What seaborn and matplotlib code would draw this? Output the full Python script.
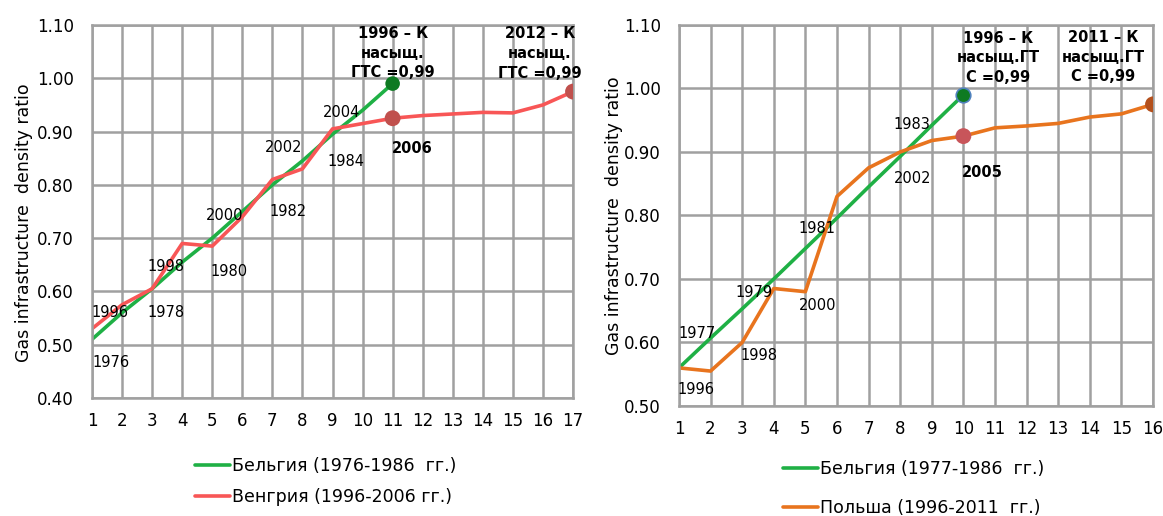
import numpy as np
import pandas as pd
import matplotlib.pyplot as plt
import seaborn as sns
from matplotlib.ticker import FormatStrFormatter

# ---- data, left chart ----
bel_l_x = list(range(1, 12))
bel_l_year = list(range(1976, 1987))
bel_l_y = [0.51, 0.56, 0.605, 0.655, 0.70, 0.75, 0.80, 0.845, 0.895, 0.94, 0.99]

hun_x = list(range(1, 18))
hun_year = list(range(1996, 2013))
hun_y = [0.53, 0.575, 0.605, 0.69, 0.685, 0.74, 0.81, 0.83, 0.905, 0.915,
         0.925, 0.93, 0.933, 0.936, 0.935, 0.95, 0.975]

# ---- data, right chart ----
bel_r_x = list(range(1, 11))
bel_r_year = list(range(1977, 1987))
bel_r_y = [0.56, 0.607, 0.653, 0.70, 0.748, 0.796, 0.845, 0.893, 0.942, 0.99]

pol_x = list(range(1, 17))
pol_year = list(range(1996, 2012))
pol_y = [0.56, 0.555, 0.60, 0.685, 0.68, 0.83, 0.875, 0.90, 0.918, 0.925,
         0.938, 0.941, 0.945, 0.955, 0.96, 0.975]

lab_bel_l = "Бельгия (1976-1986  гг.)"
lab_hun = "Венгрия (1996-2006 гг.)"
lab_bel_r = "Бельгия (1977-1986  гг.)"
lab_pol = "Польша (1996-2011  гг.)"

green = "#1fb045"
red = "#f85656"
orange = "#e8741e"
grid_c = "#a0a0a0"

sns.set_style("white")
plt.rcParams["font.family"] = ["DejaVu Sans"]
plt.rcParams["text.color"] = "black"
plt.rcParams["axes.labelcolor"] = "black"

fig = plt.figure(figsize=(11.63, 5.16), dpi=100)
ax1 = fig.add_axes([0.0791, 0.2287, 0.4136, 0.7229])
ax2 = fig.add_axes([0.5838, 0.2132, 0.4076, 0.7384])


def style_axis(ax, xmax, ymin, lab_x, lab_y):
    ax.set_xlim(1, xmax)
    ax.set_ylim(ymin, 1.10)
    ax.set_xticks(range(1, xmax + 1))
    ax.set_yticks(np.round(np.arange(ymin, 1.1001, 0.1), 2))
    ax.yaxis.set_major_formatter(FormatStrFormatter("%.2f"))
    ax.grid(True, color=grid_c, linewidth=1.8)
    ax.set_axisbelow(True)
    for s in ax.spines.values():
        s.set_color(grid_c)
        s.set_linewidth(1.8)
    ax.tick_params(length=4, width=1.8, color=grid_c, labelsize=12,
                   labelcolor="black")
    ax.tick_params(axis="y", pad=9)
    ax.tick_params(axis="x", pad=6)
    ax.set_xlabel("")
    ax.set_ylabel("Gas infrastructure  density ratio", fontsize=12.5)
    ax.yaxis.set_label_coords(lab_x, lab_y)


# left chart
sns.lineplot(x=bel_l_x, y=bel_l_y, color=green, linewidth=2.6, label=lab_bel_l, ax=ax1)
sns.lineplot(x=hun_x, y=hun_y, color=red, linewidth=2.6, label=lab_hun, ax=ax1)
sns.scatterplot(x=[bel_l_x[-1]], y=[bel_l_y[-1]], color="#0e7a22", s=110,
                edgecolor="none", ax=ax1, zorder=5)
sns.scatterplot(x=[hun_x[10], hun_x[-1]], y=[hun_y[10], hun_y[-1]], color="#c0504d",
                s=130, edgecolor="none", ax=ax1, zorder=5)
style_axis(ax1, 17, 0.40, -0.123, 0.47)

lbl = dict(fontsize=10.5, ha="center", va="center", textcoords="offset points",
           annotation_clip=False)
for i, off in {0: (14, -17), 2: (10, -17), 4: (12, -24), 6: (11.5, -19), 8: (9.5, -19.5)}.items():
    ax1.annotate(str(bel_l_year[i]), (bel_l_x[i], bel_l_y[i]), xytext=off, **lbl)
for i, off in {0: (13, 11.5), 2: (10, 16), 4: (8.6, 22), 6: (8, 23), 8: (6.5, 11.5)}.items():
    ax1.annotate(str(hun_year[i]), (hun_x[i], hun_y[i]), xytext=off, **lbl)
ax1.annotate(str(hun_year[10]), (hun_x[10], hun_y[10]), xytext=(14.4, -21.6),
             fontweight="bold", **lbl)
note = dict(fontsize=10.5, fontweight="bold", ha="center", va="center",
            textcoords="offset points", linespacing=1.4, annotation_clip=False)
ax1.annotate(f"{hun_year[0]} – К\nнасыщ.\nГТС =0,99", (bel_l_x[-1], bel_l_y[-1]),
             xytext=(0, 22), **note)
ax1.annotate(f"{hun_year[-1]} – К\nнасыщ.\nГТС =0,99", (hun_x[-1], hun_y[-1]),
             xytext=(-24, 27.5), **note)

h, l = ax1.get_legend_handles_labels()
ax1.legend(h, l, loc="upper left", bbox_to_anchor=(195 / 1163, 1 - 457 / 516),
           bbox_transform=fig.transFigure, frameon=False, fontsize=12.5,
           handlelength=2.0, handletextpad=0.15, labelspacing=0.75,
           borderpad=0, borderaxespad=0)

# right chart
sns.lineplot(x=bel_r_x, y=bel_r_y, color=green, linewidth=2.6, label=lab_bel_r, ax=ax2)
sns.lineplot(x=pol_x, y=pol_y, color=orange, linewidth=2.6, label=lab_pol, ax=ax2)
sns.scatterplot(x=[bel_r_x[-1]], y=[bel_r_y[-1]], color="#0e7a22", s=110,
                edgecolor="#4f81bd", linewidth=1.2, ax=ax2, zorder=6)
sns.scatterplot(x=[pol_x[9]], y=[pol_y[9]], color="#c8555a", s=130,
                edgecolor="none", ax=ax2, zorder=5)
sns.scatterplot(x=[pol_x[-1]], y=[pol_y[-1]], color="#b4501c", s=130,
                edgecolor="none", ax=ax2, zorder=5)
style_axis(ax2, 16, 0.50, -0.118, 0.50)

for i, off in {0: (13, 25), 2: (8.6, 11.5), 4: (8.6, 14.4), 6: (31, 44.6)}.items():
    ax2.annotate(str(bel_r_year[i]), (bel_r_x[i], bel_r_y[i]), xytext=off, **lbl)
for i, off in {0: (12.2, -15.8), 2: (12, -9.4), 4: (8.6, -10), 6: (31.7, -8)}.items():
    ax2.annotate(str(pol_year[i]), (pol_x[i], pol_y[i]), xytext=off, **lbl)
ax2.annotate(str(pol_year[9]), (pol_x[9], pol_y[9]), xytext=(13.7, -26),
             fontweight="bold", **lbl)
ax2.annotate(f"{pol_year[0]} – К\nнасыщ.ГТ\nС =0,99", (bel_r_x[-1], bel_r_y[-1]),
             xytext=(25, 26.6), **note)
ax2.annotate(f"{pol_year[-1]} – К\nнасыщ.ГТ\nС =0,99", (pol_x[-1], pol_y[-1]),
             xytext=(-36, 34), **note)

h, l = ax2.get_legend_handles_labels()
ax2.legend(h, l, loc="upper left", bbox_to_anchor=(783 / 1163, 1 - 460 / 516),
           bbox_transform=fig.transFigure, frameon=False, fontsize=12.5,
           handlelength=2.0, handletextpad=0.15, labelspacing=1.2,
           borderpad=0, borderaxespad=0)

fig.savefig("out.png", dpi=100)
